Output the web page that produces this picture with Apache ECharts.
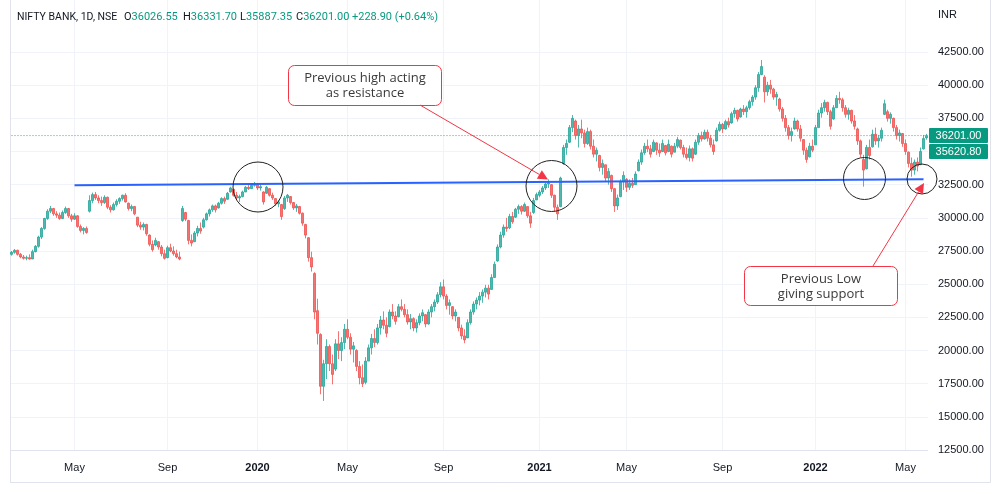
<!DOCTYPE html>
<html><head><meta charset="utf-8">
<script src="https://cdn.jsdelivr.net/npm/echarts@6/dist/echarts.min.js"></script>
<style>html,body{margin:0;padding:0;background:#fff}#c{width:1000px;height:483px}</style>
</head><body><div id="c"></div>
<script>
// [open, close, low, high] — one candle per ~3.4 trading days
const candles2019 = [
[27250,27400,27150,27500],[27400,27550,27300,27650],[27550,27250,27150,27600],[27250,27050,26950,27350],[27050,26950,26850,27200],
[26950,27000,26800,27150],[27000,26900,26850,27250],[26900,27450,26900,27600],[27450,27850,27400,27950],[27850,28550,27750,28650],
[28550,29200,28400,29300],[29200,29950,29100,30000],[29950,30500,29850,30650],[30500,30700,30350,30900],[30700,30300,30150,30750],
[30300,30200,30000,30500],[30200,29950,29850,30400],[29950,30400,29900,30550],[30400,30700,30300,30850],[30700,30150,30000,30750],
[30150,29900,29700,30300],[29900,30150,29850,30350],[30150,29350,29250,30200],[29350,29050,28900,29500],[29050,29200,28750,29300],
[29200,28900,28800,29350],[30500,31300,30400,31700],[31300,31750,31100,31900],[31750,31500,31350,31950],[31500,31300,31100,31700],
[31300,31150,30900,31600],[31150,31550,31050,31700],[31550,30800,30650,31600],[30800,30600,30400,30950],[30600,31000,30550,31150],
[31000,31250,30850,31400],[31250,31450,31050,31550],[31450,31700,31300,31750],[31700,31200,31150,31850],[31100,30700,30550,31150],
[30700,30850,30500,31000],[30850,30300,30200,30900],[30050,29450,29300,30050],[29450,29300,29100,29700],[29300,29500,29050,29650],
[29500,28800,28650,29550],[28700,28000,27850,28750],[28000,27600,27450,28300],[27950,28300,27850,28500],[28200,27800,27600,28250],
[27800,27300,27100,27950],[27300,26950,26850,27600],[27000,27750,26950,27900],[27750,27500,27400,28050],[27500,27300,27150,27850],
[27300,27050,26950,27600],[27050,26900,26800,27450],[29800,30700,29700,30900],[30400,29900,29750,30450],[29800,28300,28000,29850],
[28300,28100,27850,28750],[28200,28850,28200,29000],[28850,29200,28600,29400],[29200,29000,28800,29650],[29300,29850,29200,30000],
[29850,30300,29800,30400],[30300,30600,30100,30700],[30600,30900,30450,31000],[30900,30600,30400,31000],[30750,31100,30700,31200],
[31100,31450,31000,31550],[31450,31250,31050,31600],[31400,31850,31350,31950],[31950,32250,31900,32350],[32150,31700,31600,32200],
[31700,31500,31350,31950],[31500,31600,31200,31750],[31600,31950,31550,32050],[31950,32300,31950,32400],[32300,32200,32100,32500],
[32200,32450,32200,32600],[32450,32550,32350,32700]
];
const candles2020 = [
[32550,32250,32100,32600],[32250,32350,32050,32500],[31950,31200,31000,32000],[31850,32300,31800,32400],[32200,31700,31600,32250],
[31700,31500,31350,31900],[31450,31050,30900,31500],[31050,31200,30800,31350],[31000,30100,29850,31050],[30700,31500,30600,31650],
[31500,31700,31200,31800],[31600,31150,31000,31650],[31150,30750,30600,31200],[30750,30900,30450,31050],[30850,30350,30250,30900],
[30350,29600,29400,30400],[29500,28700,28450,29550],[28500,27000,26700,28550],[27000,26300,25950,27450],[25800,22900,22350,25900],
[23000,21300,20450,23900],[21200,17300,16700,21300],[17300,19000,16200,19300],[19000,20300,17850,20850],[20300,19000,18450,20450],
[19000,18200,17450,19700],[18600,20500,18450,20850],[20500,20000,19350,21450],[20000,20600,19200,21000],[20600,21600,20100,22000],
[21600,21000,20850,22350],[21000,20100,19700,21300],[20100,20350,19100,20650],[20000,18800,18450,20100],[18800,17950,17450,19200],
[17950,17500,17250,18950],[17600,19200,17450,19500],[19200,20200,19200,20450],[20200,20900,19700,21250],[20900,20600,20250,21600],
[20600,21700,20450,22000],[21700,22300,21200,22600],[22300,21900,21600,22950],[21900,21300,21000,22500],[21800,22900,21750,23100],
[22900,22600,22350,23500],[22600,22200,21950,22950],[22550,23300,22500,23500],[23300,23100,22950,23850],[23100,22700,22500,23500],
[22700,22150,21950,23100],[22150,22400,21600,22750],[22400,21700,21450,22500],[21700,22100,21350,22350],[22100,22600,21900,22800],
[22600,22850,22200,23100],[22700,22000,21750,22750],[22000,22900,21950,23100],[22900,23300,22500,23500],[23300,23650,22950,23850],
[23650,24200,23500,24400],[24200,24800,24000,25150],[24800,24100,23850,25350],[24100,23400,23100,24250],[23400,23600,22700,23850],
[23300,22600,22350,23350],[22600,22900,22200,23100],[22500,21700,21450,22500],[21700,21100,20850,21950],[21100,20800,20550,21600],
[20950,22100,20950,22350],[22100,22900,21950,23100],[22900,23500,22700,23700],[23500,23800,23100,24000],[23800,24100,23400,24400],
[24100,24400,23600,24600],[24400,24700,24000,24950],[24700,24250,23850,24950],[24600,25500,24600,25750],[25500,26500,25500,26700],
[26750,27800,26700,28000],[27800,28700,27700,28950],[28700,29300,28500,29500],[29300,29200,28950,30000],[29250,30100,29150,30300],
[30100,29700,29550,30450],[30050,30650,30000,30750],[30650,30850,30300,31000],[30850,30500,30250,30950],[30500,31000,30450,31150],
[30850,30150,30000,30850],[30150,29600,29250,30450],[30400,31300,30300,31500],[31350,31750,31350,31900]
];
const candles2021 = [
[31700,31950,31550,32100],[31950,32250,31800,32400],[32250,32550,32100,32650],[32550,32650,32250,32900],[32500,31700,31500,32550],
[31700,30800,30450,31750],[30800,30300,29850,31000],[30850,33000,30800,33100],[34100,35300,34000,35500],[35300,35600,34750,35900],
[35700,36800,35650,37000],[36800,37500,36450,37750],[37300,36200,35900,37400],[36200,36700,35300,37000],[36700,36400,36000,37400],
[36400,35600,35300,36650],[35600,36500,35500,36800],[36500,35400,35150,36650],[35400,34800,34550,35900],[34800,35100,34250,35300],
[34700,33800,33500,34750],[33800,34100,33250,34400],[34000,33000,32700,34000],[33000,33500,32500,33750],[33200,32200,31950,33250],
[32200,30900,30450,32250],[30900,31500,30600,31750],[31600,32700,31550,32900],[32700,33200,32100,33500],[32900,32300,31950,33000],
[32300,32600,32100,32900],[32600,32450,32250,33000],[32500,33300,32500,33500],[33550,34200,33500,34400],[34200,34900,34000,35150],
[34900,35400,34750,35650],[35400,35200,34950,35900],[35200,34800,34550,35500],[35000,35700,34950,35900],[35650,35100,34750,35700],
[35100,34900,34600,35600],[35000,35600,34950,35900],[35450,34900,34700,35500],[35000,35550,34950,35900],[35400,34800,34550,35450],
[34950,35400,34950,35650],[35400,35900,35250,36100],[35850,35300,35150,35900],[35300,34800,34550,35500],[34800,34550,34400,35300],
[34550,35200,34250,35450],[35200,34500,34250,35300],[34800,35700,34750,35900],[35700,36200,35500,36400],[36200,35950,35750,36500],
[35950,36450,35900,36650],[36450,36000,35750,36650],[36000,35500,35300,36250],[35500,35000,34750,35900],[35800,36600,35750,36800],
[36600,37050,36500,37250],[37050,36700,36400,37150],[36700,37250,36650,37400],[37250,37000,36800,37550],[37150,37850,37100,38000],
[37850,38100,37550,38300],[38100,37450,37250,38150],[37600,38200,37550,38300],[38200,38000,37750,38500],[38000,38300,37550,38450],
[38300,38750,38150,38900],[38750,39100,38450,39250],[39100,39800,38900,40000],[39800,40800,39500,41000],[40800,41400,40750,41900],
[40600,39500,38700,40750],[39500,40000,39200,40250],[40000,39700,39350,40400],[39700,39100,38900,39800],[39100,39300,38450,39500],
[38950,38200,38000,39050],[38200,37500,37250,38350],[37500,36800,36500,37750],[36800,36200,35900,37000],[36200,36500,35750,36800],
[36700,37300,36650,37550],[37300,36700,36500,37400],[36700,36000,35750,37000],[35900,35100,34750,35900],[35100,34400,34150,35300],
[34600,35400,34550,35650],[35400,35100,34950,35900]
];
const candles2022 = [
[35500,36800,35500,37000],[36800,37900,36800,38150],[37900,38300,37550,38650],[38300,38700,38000,38900],[38700,38000,37750,38750],
[38000,36900,36650,38150],[37450,38300,37400,38500],[38300,39000,38300,39250],[39000,38900,38600,39500],[38900,38300,38000,39050],
[38300,37800,37550,38500],[37800,38100,37400,38300],[38100,37300,37100,38150],[37300,36900,36650,37750],[36700,35800,35500,36800],
[35800,34800,34550,35900],[34400,33600,32350,34750],[33700,35300,33650,35500],[35300,34700,34400,35900],[35350,36300,35300,36650],
[36300,35800,35500,36800],[35800,36000,35300,36250],[36000,36600,35750,36800],[37800,38600,37750,38900],[38000,37500,37250,38150],
[37500,37800,37100,37950],[37500,36800,36500,37550],[36800,36200,35900,37000],[36200,36400,35750,36650],[36350,35600,35350,36400],
[35600,35000,34750,35900],[34950,34100,33800,35000],[34100,33600,33100,34550],[33600,34200,33250,34400],[34200,33900,33500,34550],
[34000,35000,34000,35300],[35200,35972.1,35150,36250],[36026.55,36201.00,35887.35,36331.70]
];

const xTickIndex  = [21, 52, 82, 112, 144, 176, 205, 237, 268, 298];
const xTickLabels = ['May', 'Sep', '2020', 'May', 'Sep', '2021', 'May', 'Sep', '2022', 'May'];
const priceMin = 12500, priceMax = 42500, priceStep = 2500;
const lastPrice = 36201.00;
const secondPrice = 35620.80;
const trendStart = [21, 32460];
const trendEnd = [304, 32910];
const headerTitle = 'NIFTY BANK, 1D, NSE';
const headerKeys = ['O', 'H', 'L', 'C'];
const headerVals = ['36026.55', '36331.70', '35887.35', '36201.00'];
const headerChange = '+228.90 (+0.64%)';
const note1 = 'Previous high acting\nas resistance';
const note2 = 'Previous Low\ngiving support';

const candles = [].concat(candles2019, candles2020, candles2021, candles2022);
const categories = candles.map((_, i) => String(i));
const tickSet = new Set(xTickIndex);
const lastIdx = candles.length - 1;

const FONT = '"Liberation Sans", Arial, sans-serif';
const HFONT = 'Roboto, "Liberation Sans", sans-serif';
const TXT = '#131722';
const UP = '#26a69a', DOWN = '#ef5350', TEAL = '#089981', RED = '#f23645';
const GRIDC = '#f0f3fa';

const chart = echarts.init(document.getElementById('c'));
chart.setOption({
  animation: false,
  backgroundColor: '#ffffff',
  textStyle: { fontFamily: FONT },
  grid: [
    { left: 11.5, right: 73.5, top: 0, bottom: 33 },
    { left: 10, right: 72, top: 52, bottom: 33 }
  ],
  xAxis: [
    { type: 'category', gridIndex: 0, data: categories, boundaryGap: false,
      axisLine: { show: false }, axisTick: { show: false },
      axisLabel: { interval: (i) => tickSet.has(i), margin: 12, fontSize: 11, color: TXT, fontFamily: FONT,
        formatter: (v, i) => { const t = xTickLabels[xTickIndex.indexOf(i)] || ''; return /^\d{4}$/.test(t) ? '{y|' + t + '}' : t; },
        rich: { y: { fontWeight: 'bold', fontSize: 11, color: TXT, fontFamily: FONT } } },
      splitLine: { show: true, interval: (i) => tickSet.has(i), lineStyle: { color: GRIDC, width: 1 } } },
    { type: 'category', gridIndex: 1, data: categories, boundaryGap: true, show: false }
  ],
  yAxis: [
    { type: 'value', gridIndex: 0, min: 0, max: 1, show: false },
    { type: 'value', gridIndex: 1, position: 'right', min: priceMin, max: priceMax, interval: priceStep,
      axisLine: { show: false }, axisTick: { show: false },
      axisLabel: { formatter: (v) => v.toFixed(2), margin: 10, fontSize: 11, color: TXT, fontFamily: FONT },
      splitLine: { lineStyle: { color: GRIDC, width: 1 } } }
  ],
  series: [
    {
      type: 'line', xAxisIndex: 1, yAxisIndex: 1, silent: true, symbol: 'none', z: 1,
      data: [[0, lastPrice], [lastIdx, lastPrice]],
      lineStyle: { color: '#2bb09b', type: [1, 2], width: 1 }, itemStyle: { color: '#2bb09b' }
    },
    {
      type: 'candlestick', xAxisIndex: 1, yAxisIndex: 1, data: candles, barWidth: 2, z: 3,
      itemStyle: { color: UP, color0: DOWN, borderColor: UP, borderColor0: DOWN, borderWidth: 1, opacity: 0.8 },
      markLine: {
        silent: true, symbol: ['none', 'none'], label: { show: false },
        data: [ [ { coord: trendStart }, { coord: trendEnd } ] ],
        lineStyle: { color: '#2962ff', width: 2, type: 'solid' }
      }
    }
  ]
});

// price label boxes on the right scale
const py1 = chart.convertToPixel({ yAxisIndex: 1 }, lastPrice);
const boxX = 929, boxW = 59, boxH = 15;

function arrow(x1, y1, x2, y2) {
  const dx = x2 - x1, dy = y2 - y1, L = Math.hypot(dx, dy), ux = dx / L, uy = dy / L, hl = 10, hw = 5;
  const bx = x2 - ux * hl, by = y2 - uy * hl;
  return [
    { type: 'line', z: 100, shape: { x1, y1, x2: bx, y2: by }, style: { stroke: RED, lineWidth: 1 } },
    { type: 'polygon', z: 100, shape: { points: [[x2, y2], [bx - uy * hw, by + ux * hw], [bx + uy * hw, by - ux * hw]] }, style: { fill: RED } }
  ];
}
function circle(cx, cy, r) {
  return { type: 'circle', z: 100, shape: { cx, cy, r }, style: { fill: 'none', stroke: '#222', lineWidth: 1 } };
}
function note(x, y, w, h, text) {
  return [
    { type: 'rect', z: 100, shape: { x, y, width: w, height: h, r: 6 }, style: { fill: '#fff', stroke: RED, lineWidth: 1 } },
    { type: 'text', z: 101, x: x + w / 2, y: y + h / 2 + 0.5,
      style: { text, fill: '#3a3a3a', font: '13px "Open Sans", sans-serif', align: 'center', verticalAlign: 'middle', lineHeight: 15 } }
  ];
}
const hdrFont = '11px ' + HFONT;
const titleFont = '10.5px ' + HFONT;
const boxFont = '11px ' + FONT;
const hdrX = [124, 183, 240, 296];
const g = [
  // frame
  { type: 'line', shape: { x1: 10.5, y1: 0, x2: 10.5, y2: 482.5 }, style: { stroke: '#e0e3eb', lineWidth: 1 } },
  { type: 'line', shape: { x1: 10, y1: 482.5, x2: 990.5, y2: 482.5 }, style: { stroke: '#e0e3eb', lineWidth: 1 } },
  { type: 'line', shape: { x1: 990.5, y1: 0, x2: 990.5, y2: 482.5 }, style: { stroke: '#e0e3eb', lineWidth: 1 } },
  { type: 'line', shape: { x1: 10, y1: 450.5, x2: 928, y2: 450.5 }, style: { stroke: '#e0e3eb', lineWidth: 1 } },
  // header
  { type: 'text', z: 100, x: 17, y: 17, style: { text: headerTitle, fill: TXT, font: titleFont, verticalAlign: 'middle' } },
  { type: 'text', z: 100, x: 938, y: 15, style: { text: 'INR', fill: TXT, font: boxFont, verticalAlign: 'middle' } },
  { type: 'text', z: 100, x: 352, y: 17, style: { text: headerChange, fill: TEAL, font: hdrFont, verticalAlign: 'middle' } },
  // price boxes
  { type: 'rect', z: 100, shape: { x: boxX, y: py1 - boxH / 2, width: boxW, height: boxH, r: 1 }, style: { fill: TEAL } },
  { type: 'text', z: 101, x: boxX + boxW / 2, y: py1, style: { text: lastPrice.toFixed(2), fill: '#fff', font: boxFont, align: 'center', verticalAlign: 'middle' } },
  { type: 'rect', z: 100, shape: { x: boxX, y: py1 + boxH / 2 + 1, width: boxW, height: boxH, r: 1 }, style: { fill: TEAL } },
  { type: 'text', z: 101, x: boxX + boxW / 2, y: py1 + boxH + 1, style: { text: secondPrice.toFixed(2), fill: '#fff', font: boxFont, align: 'center', verticalAlign: 'middle' } },
  // circles
  circle(258, 187, 25), circle(551.5, 186, 25.5), circle(864.5, 178.5, 21), circle(922, 179, 15)
];
headerKeys.forEach((k, i) => {
  g.push({ type: 'text', z: 100, x: hdrX[i], y: 17,
    style: { text: '{k|' + k + '}{v|' + headerVals[i] + '}', font: hdrFont, verticalAlign: 'middle',
      rich: { k: { fill: TXT, font: hdrFont }, v: { fill: TEAL, font: hdrFont } } } });
});
g.push(...note(288.5, 65.5, 153, 40, note1));
g.push(...arrow(420, 105, 548, 179.5));
g.push(...note(744.5, 266.5, 153, 39, note2));
g.push(...arrow(873, 266, 924, 183));
chart.setOption({ graphic: g });
</script>
</body></html>
